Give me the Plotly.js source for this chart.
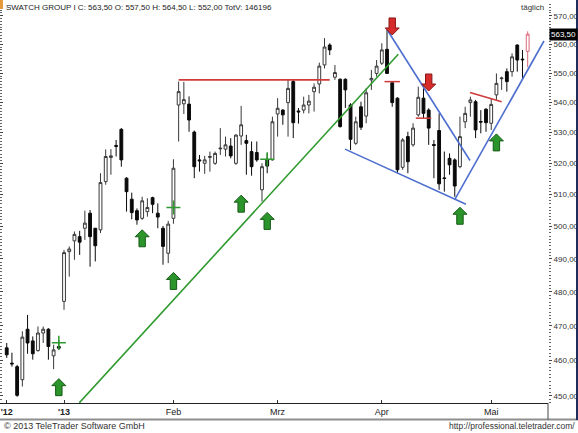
<!DOCTYPE html>
<html>
<head>
<meta charset="utf-8">
<script src="https://cdn.plot.ly/plotly-3.0.1.min.js"></script>
<style>
  html, body { margin: 0; padding: 0; background: #ffffff; }
  #chart { width: 578px; height: 433px; }
</style>
</head>
<body>
<div id="chart"></div>
<script>
// Swatch Group I, daily sessions Dec 2012 - May 2013
const days = [
  '2012-12-11','2012-12-12','2012-12-13','2012-12-14','2012-12-17','2012-12-18','2012-12-19','2012-12-20','2012-12-21','2012-12-27','2012-12-28',
  '2013-01-03','2013-01-04','2013-01-07','2013-01-08','2013-01-09','2013-01-10','2013-01-11','2013-01-14','2013-01-15','2013-01-16','2013-01-17','2013-01-18','2013-01-21','2013-01-22','2013-01-23','2013-01-24','2013-01-25','2013-01-28','2013-01-29','2013-01-30','2013-01-31',
  '2013-02-01','2013-02-04','2013-02-05','2013-02-06','2013-02-07','2013-02-08','2013-02-11','2013-02-12','2013-02-13','2013-02-14','2013-02-15','2013-02-18','2013-02-19','2013-02-20','2013-02-21','2013-02-22','2013-02-25','2013-02-26','2013-02-27','2013-02-28',
  '2013-03-01','2013-03-04','2013-03-05','2013-03-06','2013-03-07','2013-03-08','2013-03-11','2013-03-12','2013-03-13','2013-03-14','2013-03-15','2013-03-18','2013-03-19','2013-03-20','2013-03-21','2013-03-22','2013-03-25','2013-03-26','2013-03-27','2013-03-28',
  '2013-04-02','2013-04-03','2013-04-04','2013-04-05','2013-04-08','2013-04-09','2013-04-10','2013-04-11','2013-04-12','2013-04-15','2013-04-16','2013-04-17','2013-04-18','2013-04-19','2013-04-22','2013-04-23','2013-04-24','2013-04-25','2013-04-26','2013-04-29','2013-04-30',
  '2013-05-02','2013-05-03','2013-05-06','2013-05-07','2013-05-08','2013-05-10','2013-05-13','2013-05-14'
];

const open = [
  463.6,459.2,458.2,454.5,469.0,465.6,462.8,467.9,469.0,461.3,464.0,
  477.2,492.2,495.5,496.8,499.4,504.1,499.4,498.9,514.1,521.9,525.8,531.1,515.2,508.5,504.9,502.5,504.6,509.0,504.1,499.4,491.7,
  502.5,539.2,539.6,539.5,530.2,521.1,520.0,521.9,520.0,524.7,524.6,525.6,520.0,528.9,527.4,523.8,523.5,511.5,521.3,521.1,
  536.2,537.5,540.0,547.1,537.2,537.5,539.2,543.7,546.3,552.8,559.7,548.6,547.9,547.9,539.2,526.5,538.6,535.5,547.7,549.9,
  553.4,558.2,546.7,541.5,518.7,528.7,526.0,535.9,541.5,537.5,526.1,530.7,515.3,521.6,521.1,518.9,533.6,540.0,540.3,533.7,537.8,
  533.1,542.6,548.1,550.5,550.5,559.7,554.8,557.5
];
const high = [
  465.0,462.2,458.7,468.4,473.2,466.9,469.8,469.8,469.3,464.5,465.9,
  492.7,493.8,498.4,498.6,504.9,505.1,499.5,516.8,524.5,524.6,527.6,531.5,515.5,510.6,505.6,509.3,508.8,509.3,507.2,500.1,501.7,
  521.3,547.1,547.0,542.1,530.7,522.7,522.4,523.8,523.8,531.5,528.7,528.2,529.5,538.9,529.3,527.1,527.1,520.0,523.2,535.3,
  541.5,537.8,547.7,547.7,538.2,542.0,542.6,546.5,553.6,562.1,560.3,552.8,548.2,548.2,539.8,535.3,540.3,544.8,551.1,554.5,
  560.3,565.0,547.1,541.8,528.2,530.3,533.1,545.4,544.8,538.1,527.6,536.4,523.8,523.2,521.6,535.3,538.6,542.0,540.9,537.5,538.1,
  541.5,549.9,548.8,551.6,556.8,559.9,558.0,564.5
];
const low = [
  460.7,458.2,449.7,452.6,461.9,460.2,462.5,465.0,460.2,457.5,463.0,
  474.7,484.6,489.7,491.2,495.8,487.6,489.2,497.9,513.1,516.3,522.2,518.9,504.6,502.2,500.5,502.0,503.0,504.1,499.4,488.2,488.7,
  500.8,527.1,536.2,530.3,515.2,517.3,516.6,517.3,519.5,522.7,522.2,521.6,519.5,526.0,516.3,516.0,520.5,507.8,516.8,520.9,
  528.7,532.6,528.7,528.2,533.0,536.4,536.4,537.0,543.1,551.6,556.2,547.7,531.7,538.2,524.3,526.0,530.9,533.1,544.3,548.8,
  552.8,549.7,538.6,516.8,517.9,516.8,525.4,535.3,534.8,526.0,515.2,511.5,510.9,516.3,509.3,518.4,531.5,535.3,528.2,529.8,530.3,
  530.9,540.9,544.3,543.7,548.8,550.5,547.7,552.0
];
const close = [
  461.6,459.0,450.1,466.7,465.0,461.9,467.9,469.0,464.0,463.0,463.5,
  491.9,493.0,497.5,495.1,501.0,496.8,494.0,513.8,522.2,522.4,525.5,521.1,510.9,504.3,502.0,508.0,505.9,506.9,502.9,493.8,500.7,
  518.4,543.7,541.0,534.2,518.9,520.8,521.1,522.2,523.2,524.9,526.0,522.4,529.2,532.6,526.5,518.9,521.1,518.9,519.1,533.6,
  538.1,535.9,544.8,533.3,536.9,539.2,540.5,545.2,552.4,559.0,558.0,550.2,532.0,544.3,527.8,533.6,531.8,543.3,548.2,552.4,
  558.0,549.9,540.0,517.9,527.6,520.5,531.5,541.8,536.4,531.5,525.8,513.4,515.1,519.5,512.7,528.7,536.4,540.9,530.9,533.5,533.3,
  539.4,546.5,548.3,547.1,555.6,554.5,554.6,563.5
];
const lastVolume = 146196;

// Axis labelling
const monthStarts = ['2012-12-11','2013-01-03','2013-02-01','2013-03-01','2013-04-02','2013-05-02'];
const monthLabels = ["<b>'12</b>", "<b>'13</b>", 'Feb', 'Mrz', 'Apr', 'Mai'];
const priceTicks = [450, 460, 470, 480, 490, 500, 510, 520, 530, 540, 550, 560, 570];

// Signals (session date, price level)
const buyDates  = ['2012-12-28','2013-01-24','2013-02-01','2013-02-20','2013-02-27','2013-04-23','2013-05-03'];
const buyLevels = [452.4, 496.3, 483.3, 507.1, 501.7, 503.3, 526.8];
const sellDates  = ['2013-04-04','2013-04-15'];
const sellLevels = [566.2, 546.8];
const greenMarkDates  = ['2012-12-28','2013-02-01','2013-02-27'];
const greenMarkLevels = [465.1, 505.9, 521.3];
const redMarkDates  = ['2013-04-04','2013-04-12'];
const redMarkLevels = [547.1, 534.8];

// Drawn trend lines (session index, price)
const greenTrendX = [13.93, 75.16],  greenTrendY = [448.0, 556.5];
const supportX    = [64.93, 88.16],  supportY    = [524.6, 506.9];
const fallingX    = [73.05, 88.93],  fallingY    = [564.95, 520.9];
const risingX     = [86.05, 103.13], risingY     = [508.5, 561.1];
const resistX     = [33, 62],        resistY     = [547.7, 547.7];
const redSlopeX   = [88.93, 95.0],   redSlopeY   = [543.4, 540.3];

const FONT = 'Liberation Sans, Arial, sans-serif';
const pos = d => days.indexOf(d);
const sessions = days.map((d, i) => i);
const fmt = v => v.toFixed(2).replace('.', ',');
const n = days.length;

const minorTicks = [];
for (let v = 446; v <= 574; v += 1) minorTicks.push(v);

const traces = [
  {
    type: 'candlestick',
    x: sessions.slice(0, n - 1),
    open: open.slice(0, n - 1), high: high.slice(0, n - 1),
    low: low.slice(0, n - 1), close: close.slice(0, n - 1),
    text: days.slice(0, n - 1),
    increasing: { line: { color: '#383838', width: 1 }, fillcolor: '#ffffff' },
    decreasing: { line: { color: '#0a0a0a', width: 1 }, fillcolor: '#0a0a0a' },
    whiskerwidth: 0,
    showlegend: false
  },
  {
    type: 'candlestick',
    x: sessions.slice(n - 1),
    open: open.slice(n - 1), high: high.slice(n - 1),
    low: low.slice(n - 1), close: close.slice(n - 1),
    text: days.slice(n - 1),
    increasing: { line: { color: '#dc6a78', width: 1 }, fillcolor: '#ffffff' },
    decreasing: { line: { color: '#dc6a78', width: 1 }, fillcolor: '#dc6a78' },
    whiskerwidth: 0,
    showlegend: false
  }
];

function line(xs, ys, color) {
  return { type: 'scatter', mode: 'lines', x: xs, y: ys, yaxis: 'y2',
           line: { color: color, width: 1.6 }, hoverinfo: 'skip', showlegend: false };
}
traces.push(line(greenTrendX, greenTrendY, '#2f9a2f'));
traces.push(line(supportX, supportY, '#4f6fcf'));
traces.push(line(fallingX, fallingY, '#4f6fcf'));
traces.push(line(risingX, risingY, '#4f6fcf'));
traces.push(line(resistX, resistY, '#d03a3a'));
traces.push(line(redSlopeX, redSlopeY, '#d03a3a'));

traces.push({
  type: 'scatter', mode: 'markers', yaxis: 'y2',
  x: greenMarkDates.map(pos), y: greenMarkLevels,
  marker: { symbol: 'cross-thin', size: 10, line: { color: '#2f9a2f', width: 1.5 } },
  hoverinfo: 'skip', showlegend: false
});
traces.push({
  type: 'scatter', mode: 'markers', yaxis: 'y2',
  x: redMarkDates.map(pos), y: redMarkLevels,
  marker: { symbol: 'line-ew', size: 11, line: { color: '#d03a3a', width: 1.5 } },
  hoverinfo: 'skip', showlegend: false
});

// Block arrows, drawn in pixels around their anchor
const upArrow   = 'M0,8.5 L7,1.5 L3.2,1.5 L3.2,-8.5 L-3.2,-8.5 L-3.2,1.5 L-7,1.5 Z';
const downArrow = 'M0,-8.5 L7,-1.5 L3.2,-1.5 L3.2,8.5 L-3.2,8.5 L-3.2,-1.5 L-7,-1.5 Z';
const shapes = [];
buyDates.forEach((d, i) => shapes.push({
  type: 'path', xref: 'x', yref: 'y', xsizemode: 'pixel', ysizemode: 'pixel',
  xanchor: pos(d), yanchor: buyLevels[i], path: upArrow,
  fillcolor: '#2b952b', line: { color: '#175a17', width: 1 }
}));
sellDates.forEach((d, i) => shapes.push({
  type: 'path', xref: 'x', yref: 'y', xsizemode: 'pixel', ysizemode: 'pixel',
  xanchor: pos(d), yanchor: sellLevels[i], path: downArrow,
  fillcolor: '#d62c2c', line: { color: '#8a1515', width: 1 }
}));

// Frame pieces around the axis bands
shapes.push({ type: 'line', xref: 'paper', yref: 'paper', xsizemode: 'pixel', ysizemode: 'pixel',
  xanchor: 0, x0: 0, x1: 578, yanchor: 0, y0: -16.5, y1: -16.5, line: { color: '#8e8e8e', width: 2 } });
shapes.push({ type: 'line', xref: 'paper', yref: 'paper', ysizemode: 'pixel',
  x0: 1, x1: 1, yanchor: 0, y0: 0, y1: -16.5, line: { color: '#444444', width: 1 } });
shapes.push({ type: 'line', xref: 'paper', yref: 'paper', xsizemode: 'pixel', ysizemode: 'pixel',
  xanchor: 1, x0: 29, x1: 29, yanchor: 0, y0: -17, y1: 404, line: { color: '#1f2d5c', width: 2 } });
shapes.push({ type: 'rect', xref: 'paper', yref: 'paper', xsizemode: 'pixel', ysizemode: 'pixel',
  xanchor: 0, x0: 0, x1: 3, yanchor: 1, y0: 0, y1: -9, fillcolor: '#e69a3a', line: { width: 0 } });

const last = n - 1;
const annotations = [
  {
    xref: 'paper', yref: 'paper', x: 0, y: 1, xanchor: 'left', yanchor: 'top', xshift: 4, yshift: -1,
    text: 'SWATCH GROUP I C: ' + fmt(close[last]) + ' O: ' + fmt(open[last]) + ' H: ' + fmt(high[last]) +
          ' L: ' + fmt(low[last]) + ' TotV: ' + lastVolume,
    showarrow: false, font: { family: FONT, size: 8, color: '#1a1a1a' }
  },
  {
    xref: 'paper', yref: 'paper', x: 1, y: 1, xanchor: 'right', yanchor: 'top', xshift: -2, yshift: -1,
    text: 'täglich', showarrow: false, font: { family: FONT, size: 8, color: '#333333' }
  },
  {
    xref: 'paper', yref: 'y', x: 1, y: Math.log10(close[last]), xanchor: 'left', yanchor: 'middle', xshift: 1,
    text: fmt(close[last]), showarrow: false, bgcolor: '#000000', borderpad: 1,
    font: { family: FONT, size: 8, color: '#ffffff' }
  },
  {
    xref: 'paper', yref: 'paper', x: 0, y: 0, xanchor: 'left', yanchor: 'middle', xshift: 2, yshift: -23,
    text: '© 2013 TeleTrader Software GmbH', showarrow: false, font: { family: FONT, size: 9, color: '#333333' }
  },
  {
    xref: 'paper', yref: 'paper', x: 1, y: 0, xanchor: 'right', yanchor: 'middle', xshift: 29, yshift: -23,
    text: 'http://professional.teletrader.com/', showarrow: false, font: { family: FONT, size: 8.5, color: '#333333' }
  }
];

const yRange = [2.65124, 2.760118];

const layout = {
  width: 578, height: 433,
  margin: { l: 0, r: 30, t: 0, b: 30, pad: 0 },
  paper_bgcolor: '#ffffff', plot_bgcolor: '#ffffff',
  showlegend: false,
  separators: ',.',
  boxgap: 0.23,
  font: { family: FONT, size: 9, color: '#222222' },
  xaxis: {
    type: 'linear', range: [-1.29, 103.9], fixedrange: true,
    tickmode: 'array', tickvals: monthStarts.map(pos), ticktext: monthLabels,
    ticks: 'inside', ticklen: 3, tickcolor: '#333333', tickwidth: 1,
    showline: true, linecolor: '#222222', linewidth: 1,
    showgrid: false, zeroline: false,
    tickfont: { family: FONT, size: 9, color: '#222222' },
    rangeslider: { visible: false }
  },
  yaxis: {
    type: 'log', side: 'right', range: yRange, fixedrange: true,
    tickmode: 'array', tickvals: priceTicks, tickformat: '.2f',
    ticks: 'outside', ticklen: 3, tickcolor: '#444444', tickwidth: 1,
    minor: { tickmode: 'array', tickvals: minorTicks, ticks: 'outside', ticklen: 2, tickcolor: '#666666', showgrid: false },
    showline: false, showgrid: false, zeroline: false,
    tickfont: { family: FONT, size: 8, color: '#333333' }
  },
  yaxis2: {
    type: 'log', side: 'left', overlaying: 'y', range: yRange, fixedrange: true,
    tickmode: 'array', tickvals: priceTicks, showticklabels: false,
    ticks: 'inside', ticklen: 3, tickcolor: '#444444',
    minor: { tickmode: 'array', tickvals: minorTicks, ticks: 'inside', ticklen: 2, tickcolor: '#666666', showgrid: false },
    showline: false, showgrid: false, zeroline: false
  },
  shapes: shapes,
  annotations: annotations
};

Plotly.newPlot('chart', traces, layout, { displayModeBar: false, staticPlot: true });
</script>
</body>
</html>
